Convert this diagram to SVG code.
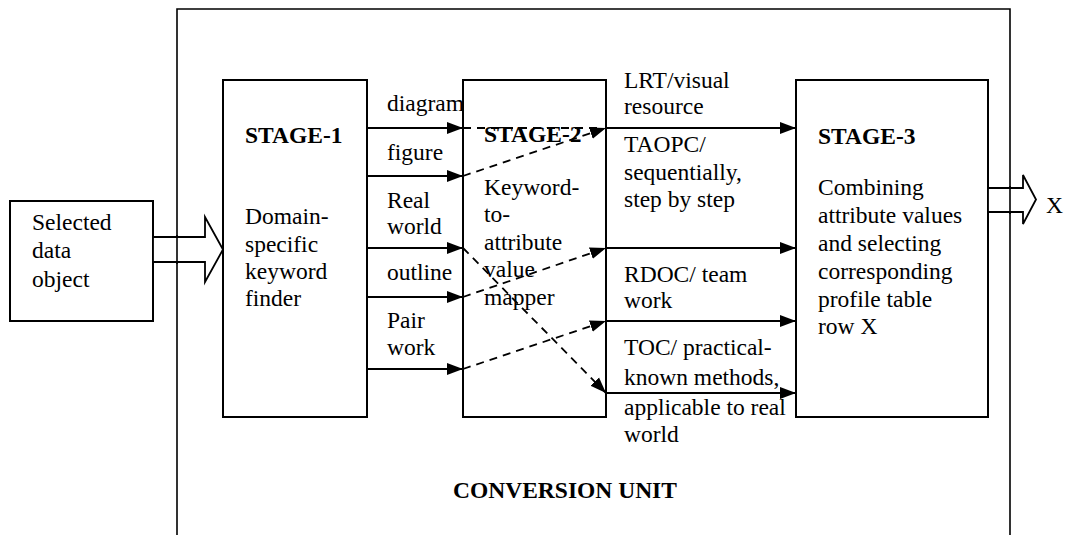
<svg xmlns="http://www.w3.org/2000/svg" width="1076" height="535" viewBox="0 0 1076 535">
  <style>
    .box { fill: #fff; stroke: #000; stroke-width: 2; }
    .frame { fill: none; stroke: #000; stroke-width: 1.6; }
    text { font-family: 'Liberation Serif', 'DejaVu Serif', serif; font-size: 23.5px; fill: #000; }
    .b { font-weight: bold; }
    .solid { fill: none; stroke: #000; stroke-width: 2.2; }
    .dash { fill: none; stroke: #000; stroke-width: 1.8; stroke-dasharray: 8 6; }
    .fat { fill: #fff; stroke: #000; stroke-width: 1.8; stroke-linejoin: miter; }
  </style>
  <defs>
    <marker id="head" markerUnits="userSpaceOnUse" markerWidth="17" markerHeight="14" refX="16" refY="7" orient="auto">
      <path d="M0,1 L16,7 L0,13 z" fill="#000"/>
    </marker>
  </defs>

  <rect width="1076" height="535" fill="#fff"/>

  <!-- conversion unit frame (open at the bottom) -->
  <g id="conversion-unit">
    <path class="frame" d="M177,535 L177,9 L1010,9 L1010,535"/>
    <text class="b" x="453" y="498">CONVERSION UNIT</text>
  </g>

  <!-- input object -->
  <g id="selected-data-object">
    <rect class="box" x="10" y="201" width="143" height="120"/>
    <text x="32" y="230">Selected</text>
    <text x="32" y="258">data</text>
    <text x="32" y="287">object</text>
  </g>

  <g id="stage-1">
    <rect class="box" x="223" y="80" width="144" height="337"/>
    <text class="b" x="245" y="143">STAGE-1</text>
    <text x="245" y="224">Domain-</text>
    <text x="245" y="252">specific</text>
    <text x="245" y="279">keyword</text>
    <text x="245" y="306">finder</text>
  </g>

  <g id="stage-2">
    <rect class="box" x="463" y="80" width="143" height="337"/>
    <text x="484" y="195">Keyword-</text>
    <text x="484" y="222">to-</text>
    <text x="484" y="250">attribute</text>
    <text x="484" y="277">value</text>
    <text x="484" y="305">mapper</text>
  </g>

  <g id="stage-3">
    <rect class="box" x="796" y="80" width="192" height="337"/>
    <text class="b" x="818" y="144">STAGE-3</text>
    <text x="818" y="195">Combining</text>
    <text x="818" y="223">attribute values</text>
    <text x="818" y="251">and selecting</text>
    <text x="818" y="279">corresponding</text>
    <text x="818" y="307">profile table</text>
    <text x="818" y="334">row X</text>
  </g>

  <g id="output-x">
    <text x="1046" y="213" font-size="29">X</text>
  </g>

  <g id="connectors">
    <!-- block arrows in and out -->
    <path class="fat" d="M153,237 L205,237 L205,217 L223,249.5 L205,282 L205,262 L153,262 z"/>
    <path class="fat" d="M988,188 L1023,188 L1023,175 L1036,199.5 L1023,224 L1023,212 L988,212 z"/>
    <line x1="177" y1="235" x2="177" y2="264" stroke="#000" stroke-width="1.6"/>
    <line x1="1010" y1="186" x2="1010" y2="214" stroke="#000" stroke-width="1.6"/>

    <!-- keywords: stage 1 to stage 2 -->
    <line class="solid" x1="367" y1="128" x2="463" y2="128" marker-end="url(#head)"/>
    <line class="solid" x1="367" y1="176" x2="463" y2="176" marker-end="url(#head)"/>
    <line class="solid" x1="367" y1="248" x2="463" y2="248" marker-end="url(#head)"/>
    <line class="solid" x1="367" y1="297" x2="463" y2="297" marker-end="url(#head)"/>
    <line class="solid" x1="367" y1="369" x2="463" y2="369" marker-end="url(#head)"/>

    <!-- keyword to attribute value mapping -->
    <line class="dash" x1="463" y1="128" x2="600" y2="128"/>
    <line class="dash" x1="463" y1="176" x2="606" y2="128" marker-end="url(#head)"/>
    <line class="dash" x1="463" y1="248" x2="606" y2="393" marker-end="url(#head)"/>
    <line class="dash" x1="463" y1="297" x2="606" y2="248" marker-end="url(#head)"/>
    <line class="dash" x1="463" y1="369" x2="606" y2="321" marker-end="url(#head)"/>

    <!-- attribute values: stage 2 to stage 3 -->
    <line class="solid" x1="606" y1="128" x2="796" y2="128" marker-end="url(#head)"/>
    <line class="solid" x1="606" y1="248" x2="796" y2="248" marker-end="url(#head)"/>
    <line class="solid" x1="606" y1="321" x2="796" y2="321" marker-end="url(#head)"/>
    <line class="solid" x1="606" y1="393" x2="796" y2="393" marker-end="url(#head)"/>
  </g>

  <!-- connector labels -->
  <g id="keyword-labels">
    <text x="387" y="111">diagram</text>
    <text x="387" y="160">figure</text>
    <text x="387" y="208">Real</text>
    <text x="387" y="234">world</text>
    <text x="387" y="280">outline</text>
    <text x="387" y="328">Pair</text>
    <text x="387" y="355">work</text>
  </g>
  <g id="attribute-labels">
    <text x="624" y="88">LRT/visual</text>
    <text x="624" y="114">resource</text>
    <text x="624" y="152">TAOPC/</text>
    <text x="624" y="180">sequentially,</text>
    <text x="624" y="207">step by step</text>
    <text x="624" y="282">RDOC/ team</text>
    <text x="624" y="308">work</text>
    <text x="624" y="355">TOC/ practical-</text>
    <text x="624" y="385">known methods,</text>
    <text x="624" y="415">applicable to real</text>
    <text x="624" y="442">world</text>
  </g>

  <!-- stage 2 title drawn over the dashed line -->
  <text class="b" x="484" y="142">STAGE-2</text>
</svg>
